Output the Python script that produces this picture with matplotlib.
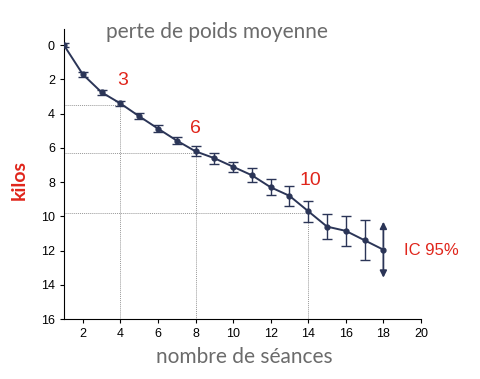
import matplotlib.pyplot as plt
import numpy as np

seances = [1, 2, 3, 4, 5, 6, 7, 8, 9, 10, 11, 12, 13, 14, 15, 16, 17]
perte = [0, 1.7, 2.75, 3.4, 4.15, 4.87, 5.57, 6.2, 6.6, 7.1, 7.6, 8.3, 8.8, 9.7, 10.6, 10.85, 11.4]
erreur = [0.12, 0.15, 0.15, 0.15, 0.18, 0.2, 0.22, 0.3, 0.33, 0.3, 0.42, 0.47, 0.6, 0.62, 0.73, 0.88, 1.17]

# dernier point, IC représenté par une flèche
x_last = 18
y_last = 11.95
ic_last = 1.8

# lignes de repère (séance, kilos, étiquette)
reperes_x = [4, 8, 14]
reperes_y = [3.5, 6.3, 9.8]
reperes_lab = ['3', '6', '10']
lab_pos = [(4.1, 2.05), (8.0, 4.85), (14.1, 7.9)]

navy = '#2b3557'
red = '#e0251b'
gray = '#6b6b6b'

plt.rcParams['font.family'] = ['Liberation Sans', 'DejaVu Sans']

fig = plt.figure(figsize=(4.8, 3.79), dpi=100)
ax = fig.add_axes([0.1333, 0.1583, 0.7437, 0.7652])

for xr, yr in zip(reperes_x, reperes_y):
    ax.plot([1, xr], [yr, yr], color='#999999', lw=0.7, ls=(0, (1, 1)))
    ax.plot([xr, xr], [yr, 16], color='#999999', lw=0.7, ls=(0, (1, 1)))

ax.errorbar(seances, perte, yerr=erreur, color=navy, lw=1.4, marker='o', ms=3.5,
            capsize=3.5, elinewidth=1.0, capthick=1.0, zorder=3)
ax.plot([seances[-1], x_last], [perte[-1], y_last], color=navy, lw=1.4, zorder=3)
ax.plot(x_last, y_last, 'o', color=navy, ms=3.5, zorder=3)
ax.annotate('', xy=(x_last, y_last - ic_last), xytext=(x_last, y_last),
            arrowprops=dict(arrowstyle='-|>', color=navy, lw=1.3, mutation_scale=10))
ax.annotate('', xy=(x_last, y_last + ic_last), xytext=(x_last, y_last),
            arrowprops=dict(arrowstyle='-|>', color=navy, lw=1.3, mutation_scale=10))

for lab, (lx, ly) in zip(reperes_lab, lab_pos):
    ax.text(lx, ly, lab, color=red, fontsize=14, ha='center', va='center')
ax.text(19.1, 12.0, 'IC 95%', color=red, fontsize=12, ha='left', va='center')

ax.set_xlim(1, 20)
ax.set_ylim(16, -0.95)
ax.set_xticks(range(2, 21, 2))
ax.set_yticks(range(0, 17, 2))
ax.tick_params(labelsize=9, length=3, width=0.8)
for s in ['top', 'right']:
    ax.spines[s].set_visible(False)
for s in ['left', 'bottom']:
    ax.spines[s].set_linewidth(0.8)

fig.text(0.452, 0.915, 'perte de poids moyenne', color=gray, fontsize=15,
         ha='center', va='center', family=['Lato', 'DejaVu Sans'])
fig.text(0.51, 0.058, 'nombre de séances', color=gray, fontsize=15,
         ha='center', va='center', family=['Lato', 'DejaVu Sans'])
fig.text(0.04, 0.525, 'kilos', color=red, fontsize=14, fontweight='bold',
         rotation=90, ha='center', va='center', family=['Lato', 'DejaVu Sans'])

plt.savefig('out.png', dpi=100)
